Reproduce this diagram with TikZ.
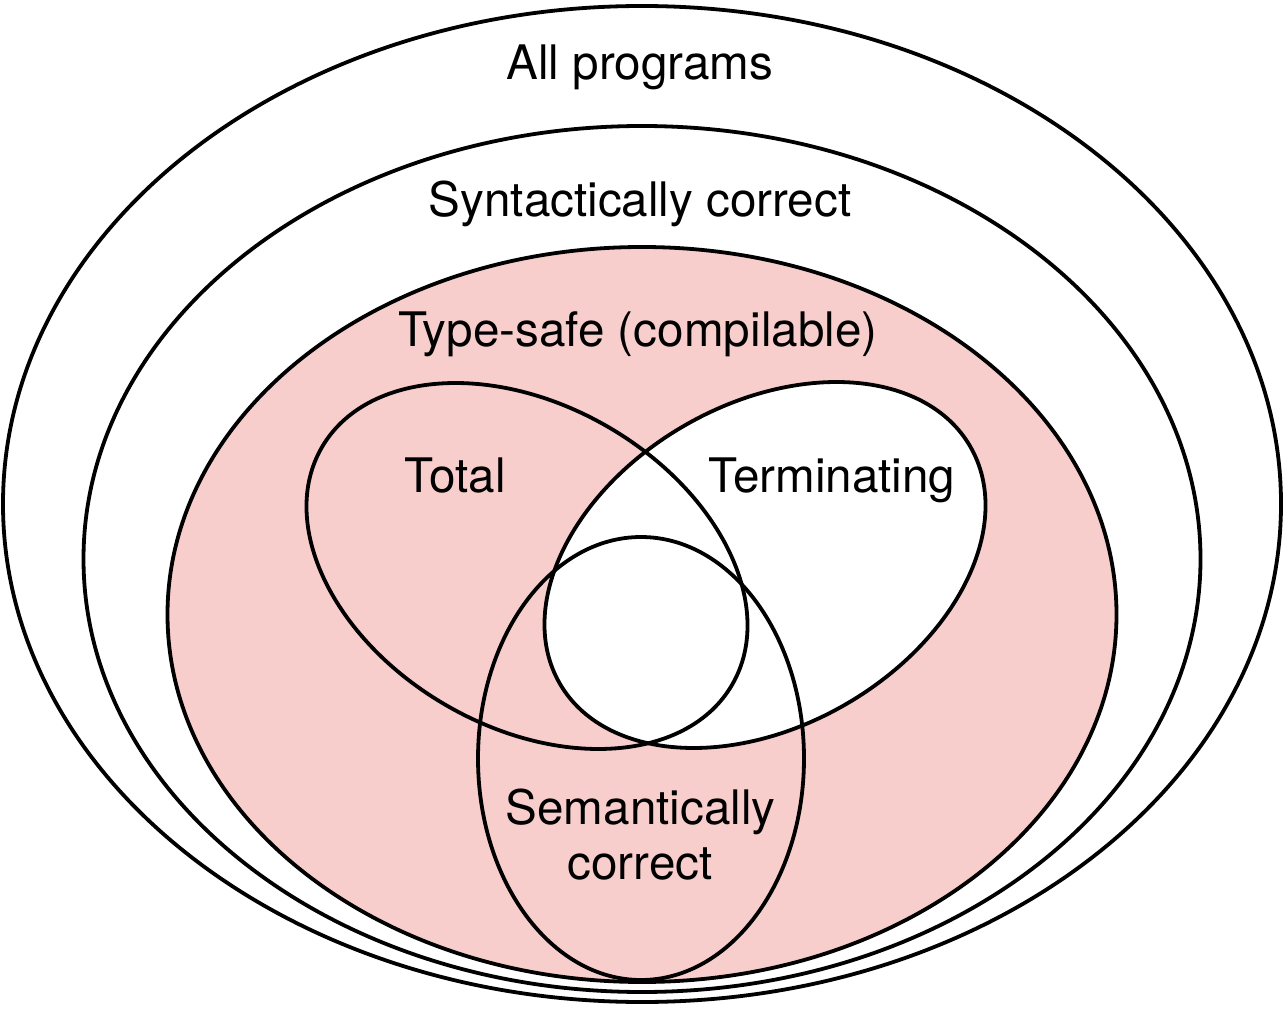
\documentclass[tikz,border=0pt]{standalone}
\usepackage{fontspec}
\setmainfont{TeX Gyre Heros}
\definecolor{typepink}{HTML}{F8CECC}
\begin{document}
\begin{tikzpicture}[x=0.5pt,y=0.5pt,
  setline/.style={line width=1.9pt, draw=black},
  lbl/.style={anchor=base, inner sep=0pt, font=\fontsize{23.8}{27.5}\selectfont}]
\useasboundingbox (0,0) rectangle (1284,1008);
\fill[white] (0,0) rectangle (1284,1008);
% nested sets
\draw[setline] (642,504) ellipse [x radius=639, y radius=498];
\draw[setline] (642,449) ellipse [x radius=558.5, y radius=433];
\draw[setline, fill=typepink] (642,393.5) ellipse [x radius=474.5, y radius=367.5];
% terminating (white fill)
\fill[white, rotate around={30:(765,443)}] (765,443) ellipse [x radius=237, y radius=161];
% outlines of the three inner sets
\draw[setline, rotate around={-30:(527,442)}] (527,442) ellipse [x radius=237, y radius=161];
\draw[setline, rotate around={30:(765,443)}] (765,443) ellipse [x radius=237, y radius=161];
\draw[setline] (641,249.5) ellipse [x radius=163, y radius=221.5];
% labels
\node[lbl] (allp) at (640,928) {All programs};
\node[lbl] (synt) at (640,791) {Syntactically correct};
\node[lbl] (tsafe) at (638,661) {Type-safe (compilable)};
\node[lbl] (total) at (455,516) {Total};
\node[lbl] (term) at (832,516) {Terminating};
\node[lbl] (sem1) at (640.5,184) {Semantically};
\node[lbl] (sem2) at (640,129) {correct};
\end{tikzpicture}
\end{document}
